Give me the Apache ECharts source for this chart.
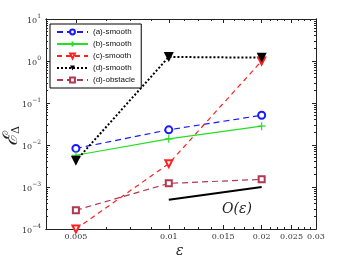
<!DOCTYPE html>
<html><head><meta charset="utf-8">
<script src="https://cdn.jsdelivr.net/npm/echarts@6/dist/echarts.min.js"></script>
<style>html,body{margin:0;padding:0;background:#fff}#c{width:349px;height:262px}</style>
</head><body><div id="c"></div>
<script>
// ---- data ----
const epsilon = [0.005, 0.01, 0.02];
const aSmooth = [0.0083, 0.023, 0.051];
const bSmooth = [0.0057, 0.014, 0.028];
const cSmooth = [0.0001, 0.0036, 1.0];
const dSmooth = [0.0042, 1.25, 1.2];
const dObstacle = [0.00028, 0.00122, 0.00152];
const orderEps = [0.01, 0.02];
const orderVal = [0.0005, 0.001];
const seriesNames = ['(a)-smooth', '(b)-smooth', '(c)-smooth', '(d)-smooth', '(d)-obstacle'];
const xTickLabels = [0.005, 0.01, 0.015, 0.02, 0.025, 0.03];
const xMinorTicks = [0.00625, 0.0075, 0.00875, 0.01125, 0.0125, 0.01375, 0.01625, 0.0175, 0.01875,
  0.02125, 0.0225, 0.02375, 0.02625, 0.0275, 0.02875];
const yTickLabels = [1e-4, 1e-3, 1e-2, 1e-1, 1e0, 1e1];
const yMinorTicks = [];
for (let e = -4; e < 1; e++) for (let k = 2; k <= 9; k++) yMinorTicks.push(+(k * Math.pow(10, e)).toPrecision(3));

const X_MIN = 0.004, X_MAX = 0.03, Y_MIN = 1e-4, Y_MAX = 10;
const serif = "'DejaVu Serif', 'Liberation Serif', serif";

function pairs(xs, ys) { return xs.map((x, i) => [x, ys[i]]); }
function fmtX(v) { return String(parseFloat(Number(v).toPrecision(6))); }

function xAx(pos, ticks, len, label) {
  return {
    type: 'log', logBase: 10, min: X_MIN, max: X_MAX, position: pos,
    axisLine: { show: true, onZero: false, lineStyle: { color: '#222', width: 1 } },
    axisTick: { show: true, inside: true, length: len, customValues: ticks, lineStyle: { color: '#222', width: 1 } },
    axisLabel: label ? { show: true, customValues: xTickLabels, formatter: fmtX, fontFamily: serif, fontSize: 8, color: '#333', margin: 4 } : { show: false },
    splitLine: { show: false }, minorTick: { show: false }
  };
}
function yAx(pos, ticks, len, label) {
  return {
    type: 'log', logBase: 10, min: Y_MIN, max: Y_MAX, position: pos,
    axisLine: { show: true, onZero: false, lineStyle: { color: '#222', width: 1 } },
    axisTick: { show: true, inside: true, length: len, customValues: ticks, lineStyle: { color: '#222', width: 1 } },
    axisLabel: label ? {
      show: true, customValues: yTickLabels, margin: 5,
      formatter: v => '{b|10}{s|' + String(Math.round(Math.log10(v))).replace('-', '\u2212') + '}',
      rich: {
        b: { fontFamily: serif, fontSize: 8, color: '#333', verticalAlign: 'bottom', lineHeight: 12 },
        s: { fontFamily: serif, fontSize: 6, color: '#333', verticalAlign: 'top', lineHeight: 12, padding: [0, 0, 5, 0] }
      }
    } : { show: false },
    splitLine: { show: false }, minorTick: { show: false }
  };
}

const option = {
  animation: false,
  backgroundColor: '#fff',
  grid: { left: 46, right: 33, top: 19, bottom: 33, containLabel: false },
  xAxis: [xAx('bottom', xTickLabels, 4, true), xAx('bottom', xMinorTicks, 2, false),
          xAx('top', xTickLabels, 4, false), xAx('top', xMinorTicks, 2, false)],
  yAxis: [yAx('left', yTickLabels, 4, true), yAx('left', yMinorTicks, 2, false),
          yAx('right', yTickLabels, 4, false), yAx('right', yMinorTicks, 2, false)],
  legend: {
    data: seriesNames, orient: 'vertical', left: 50, top: 24,
    padding: [3, 6, 3, 6], itemGap: 2, itemWidth: 31, itemHeight: 6,
    backgroundColor: '#fff', borderColor: '#000', borderWidth: 1, borderRadius: 0,
    textStyle: { fontFamily: "'Liberation Sans', Arial, sans-serif", fontSize: 8, color: '#111', lineHeight: 10 }
  },
  graphic: [
    { type: 'text', left: 222, top: 202, style: { text: 'O(\u03b5)', font: 'italic 14px ' + serif, fill: '#222' } },
    { type: 'text', left: 176, top: 244, style: { text: '\u03b5', font: 'italic 14px ' + serif, fill: '#222' } },
    { type: 'text', left: 2, top: 126, rotation: Math.PI / 2,
      style: { text: '{e|\u2130}{d|\u0394}', rich: {
        e: { font: 'italic 20px ' + serif, fill: '#222' },
        d: { font: '11px ' + serif, fill: '#222', padding: [9, 0, 0, 0] } } } }
  ],
  series: [
    { name: seriesNames[0], type: 'line', data: pairs(epsilon, aSmooth), xAxisIndex: 0, yAxisIndex: 0,
      symbol: 'emptyCircle', symbolSize: 7, lineStyle: { color: '#1a1aff', width: 1.2, type: [6, 4] },
      itemStyle: { color: '#1a1aff', borderWidth: 1.2 } },
    { name: seriesNames[1], type: 'line', data: pairs(epsilon, bSmooth),
      symbol: 'path://M0,5L10,5M5,0L5,10', symbolSize: 8, lineStyle: { color: '#22e022', width: 1.2 },
      itemStyle: { color: 'none', borderColor: '#22e022', borderWidth: 1.2 } },
    { name: seriesNames[2], type: 'line', data: pairs(epsilon, cSmooth),
      symbol: 'emptyTriangle', symbolRotate: 180, symbolSize: 7, lineStyle: { color: '#ff2020', width: 1.2, type: [5, 4] },
      itemStyle: { color: '#ff2020', borderWidth: 1.2 } },
    { name: seriesNames[3], type: 'line', data: pairs(epsilon, dSmooth),
      symbol: 'triangle', symbolRotate: 180, symbolSize: 10, lineStyle: { color: '#000', width: 2, type: [2, 2] },
      itemStyle: { color: '#000' } },
    { name: seriesNames[4], type: 'line', data: pairs(epsilon, dObstacle),
      symbol: 'emptyRect', symbolSize: 6, lineStyle: { color: '#b03850', width: 1.2, type: [6, 4] },
      itemStyle: { color: '#b03850', borderWidth: 1.2 } },
    { name: 'O(eps)', type: 'line', data: pairs(orderEps, orderVal), symbol: 'none',
      lineStyle: { color: '#000', width: 2 } }
  ]
};
const chart = echarts.init(document.getElementById('c'), null, { renderer: 'canvas' });
chart.setOption(option);
</script></body></html>
